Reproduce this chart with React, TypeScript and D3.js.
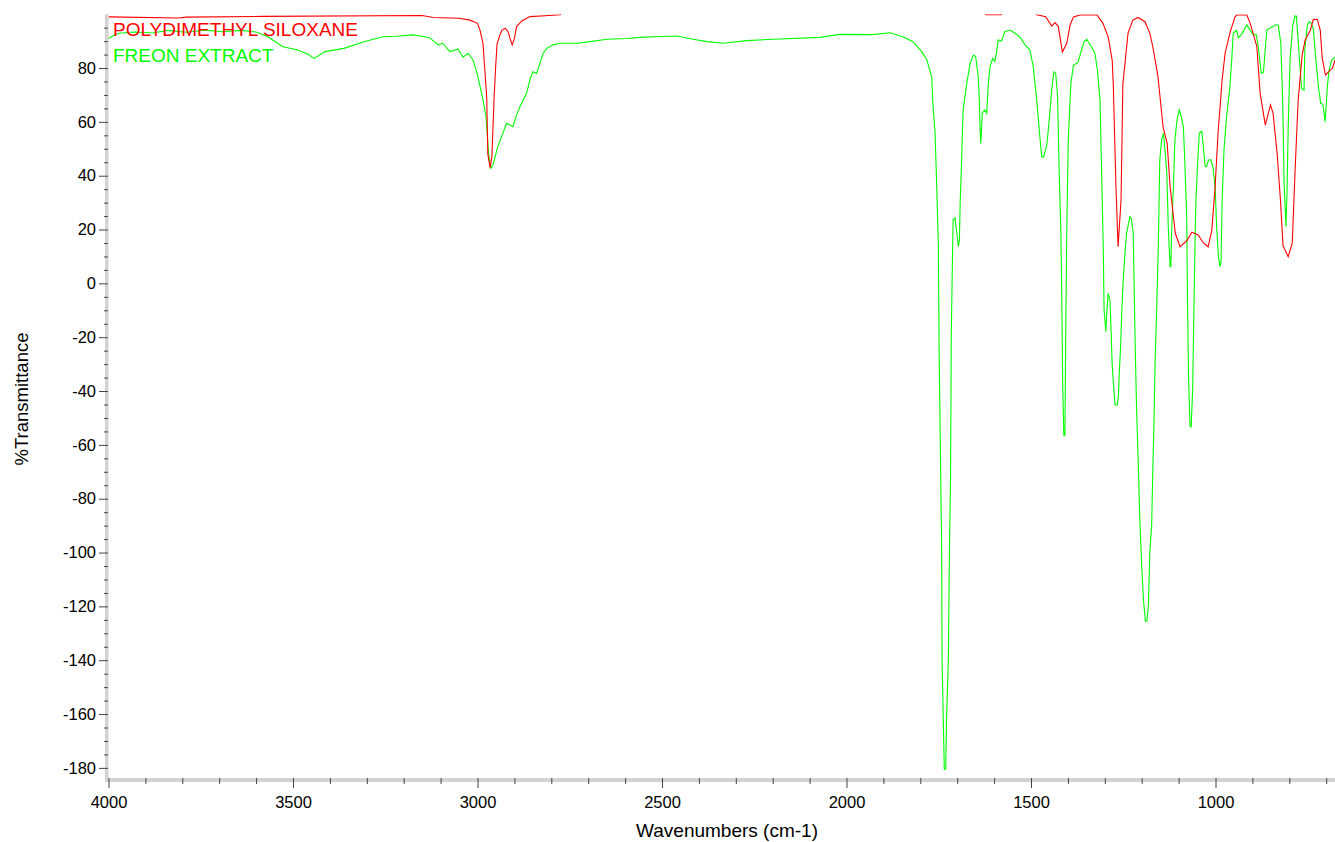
import { useRef, useEffect } from "react";
import * as d3 from "d3";

// [wavenumber (cm-1), %T]
const pdmsSpectrum = [
  [4000, 99.0], [3810, 98.6], [3790, 98.9], [3580, 99.2], [3150, 99.5], [3120, 98.8], [3050, 98.5],
  [3020, 97.8], [3000, 96.6], [2993, 94], [2985, 89], [2980, 79], [2975, 69], [2972, 48], [2966, 43],
  [2961, 47], [2955, 69], [2951, 80], [2947, 89], [2940, 92], [2934, 94], [2925, 94.8], [2917, 93.5],
  [2912, 91], [2906, 88.6], [2900, 91], [2894, 95.4], [2880, 97.5], [2858, 99.1], [2817, 99.4],
  [2776, 99.8], [2770, 101], [1630, 101], [1622, 99.8], [1581, 99.8], [1576, 101], [1490, 101],
  [1484, 99.8], [1460, 99.1], [1444, 95.6], [1435, 96.9], [1426, 95.4], [1415, 86], [1403, 89.2],
  [1394, 96], [1385, 99], [1367, 99.7], [1321, 99.7], [1305, 96.6], [1291, 91.7], [1280, 83],
  [1277, 74], [1270, 37], [1264, 13.6], [1256, 31], [1251, 74], [1237, 93], [1224, 97.8],
  [1210, 98.8], [1191, 97.2], [1178, 92.9], [1170, 88], [1156, 77], [1142, 58], [1131, 52],
  [1123, 36], [1109, 18.6], [1096, 13.6], [1077, 16], [1064, 19], [1047, 18], [1033, 15],
  [1020, 13.6], [1010, 19.8], [1001, 36], [993, 56], [982, 75.6], [974, 85.5], [960, 93.5],
  [947, 99], [942, 99.7], [915, 99.7], [906, 96.6], [898, 92.9], [888, 88], [879, 70.6],
  [865, 58.8], [851, 66.3], [844, 63.2], [833, 48.3], [824, 31], [817, 14], [803, 9.9],
  [792, 14.9], [784, 43], [776, 68], [765, 85], [757, 90.4], [743, 94], [735, 98], [724, 98.1],
  [716, 94], [711, 84], [702, 77.4], [694, 78.6], [683, 80], [672, 84.5]
];

const freonSpectrum = [
  [4000, 91.0], [3985, 92.2], [3972, 92.9], [3930, 93.4], [3880, 93.0], [3840, 94.0], [3790, 93.3],
  [3740, 94.1], [3690, 93.5], [3640, 94.0], [3600, 93.4], [3568, 91.6], [3527, 87.9], [3490, 86.8],
  [3460, 85.2], [3443, 83.6], [3413, 86.1], [3362, 87.3], [3308, 89.8], [3256, 91.6], [3220, 91.8],
  [3175, 92.3], [3142, 91.6], [3129, 91.2], [3107, 88.6], [3094, 89.2], [3075, 86.1], [3053, 87],
  [3039, 84], [3026, 85.5], [3012, 83], [3001, 78], [2993, 73.1], [2985, 68.1], [2977, 61.9],
  [2970, 48.3], [2964, 42.8], [2958, 44], [2945, 50.8], [2931, 55.8], [2921, 59.5], [2904, 58.2],
  [2894, 62.6], [2885, 65.6], [2867, 70.6], [2858, 75.6], [2850, 78.6], [2840, 78], [2822, 85.5],
  [2812, 87.3], [2795, 88.6], [2776, 89.2], [2730, 89.2], [2695, 89.8], [2649, 90.7], [2595, 91],
  [2560, 91.4], [2505, 91.7], [2459, 91.9], [2416, 90.7], [2378, 89.8], [2334, 89.2], [2270, 90.2],
  [2199, 90.7], [2072, 91.4], [2018, 92.5], [1930, 92.4], [1882, 93.1], [1847, 91.6], [1820, 89.8],
  [1796, 86.1], [1782, 83], [1776, 79.9], [1769, 76.8], [1766, 67], [1760, 55.8], [1756, 38.4],
  [1751, 13.6], [1749, -25], [1745, -68], [1742, -100], [1741, -140], [1739, -153], [1735, -180.5],
  [1731, -180.5], [1729, -162], [1724, -140], [1721, -99], [1718, -72], [1716, -19], [1713, 8],
  [1711, 23.6], [1706, 24.3], [1701, 18.6], [1697, 13.6], [1694, 16], [1692, 29.8], [1688, 45.8],
  [1684, 64.4], [1674, 74.3], [1665, 81.8], [1656, 84.8], [1650, 84.3], [1643, 76.8], [1640, 68.1],
  [1638, 57], [1636, 52], [1632, 63.3], [1625, 64.4], [1620, 63.2], [1616, 73.7], [1611, 80.5],
  [1604, 83.6], [1598, 82.5], [1593, 86.1], [1589, 90.4], [1580, 90], [1571, 93.5], [1557, 94.1],
  [1543, 92.9], [1530, 91.5], [1516, 88.6], [1503, 86.7], [1494, 80.5], [1485, 68.8], [1476, 54.5],
  [1471, 47], [1466, 47], [1457, 51.4], [1449, 63.2], [1444, 71.8], [1438, 78.6], [1433, 78],
  [1428, 69.4], [1424, 43.4], [1419, 18.6], [1417, 0.1], [1414, -38.5], [1411, -56.4], [1408, -56.4],
  [1406, -20], [1403, 20], [1399, 53.3], [1392, 74.3], [1385, 81.1], [1373, 82], [1363, 86.7],
  [1356, 89.8], [1349, 90.7], [1336, 87.9], [1327, 85.5], [1320, 79.3], [1313, 68.1], [1308, 37.2],
  [1304, 12.4], [1302, -9.9], [1297, -18], [1295, -11.8], [1291, -3.7], [1286, -6.2], [1283, -17.3],
  [1280, -30.3], [1275, -40.2], [1272, -45.2], [1266, -45.2], [1263, -41.5], [1261, -34], [1257, -22.9],
  [1254, -10.5], [1250, 1.3], [1246, 10], [1241, 18.6], [1232, 24.8], [1228, 24], [1223, 18.6],
  [1218, -20.5], [1214, -46], [1209, -68.5], [1205, -88], [1200, -105], [1195, -118], [1190, -125.5],
  [1186, -125.5], [1182, -120], [1178, -100], [1173, -90], [1170, -70], [1167, -53.8], [1164, -31],
  [1159, -7.4], [1155, 13.6], [1151, 45.8], [1146, 53.3], [1141, 55.8], [1137, 49.6], [1132, 41],
  [1128, 21], [1123, 6.2], [1121, 6.2], [1119, 18.6], [1114, 36], [1110, 53.3], [1104, 61],
  [1098, 64.4], [1093, 62], [1087, 58.2], [1083, 44.6], [1078, 24.8], [1076, -5], [1073, -35],
  [1069, -53], [1066, -53.3], [1062, -40], [1058, -5.4], [1055, 18.6], [1053, 31], [1048, 45.8],
  [1044, 55.8], [1037, 56.4], [1033, 50.8], [1028, 43.4], [1024, 43.4], [1019, 45.8], [1013, 46],
  [1007, 43.4], [1001, 35.9], [997, 21], [992, 9.9], [988, 6.2], [985, 8], [982, 31], [977, 49.6],
  [970, 61.9], [961, 73.1], [956, 83], [952, 92.9], [943, 94], [938, 91.3], [929, 92.5], [915, 96],
  [906, 94], [897, 92.3], [890, 92.5], [884, 87.9], [876, 78], [870, 78.5], [861, 94.1], [838, 96],
  [830, 96], [823, 89.2], [818, 68.1], [814, 37.2], [809, 21], [806, 35], [803, 58.2], [798, 83],
  [791, 95.4], [785, 99.3], [781, 99.3], [776, 90.4], [771, 80.5], [767, 72.5], [760, 71.8],
  [758, 86.7], [751, 96], [746, 97.2], [741, 96.8], [735, 94.8], [728, 83], [721, 73.1], [715, 66.9],
  [709, 66.5], [703, 60.1], [700, 66], [697, 73.1], [692, 79.3], [685, 83], [672, 84.5]
];

const seriesNames = ["POLYDIMETHYL SILOXANE", "FREON EXTRACT"];
const seriesColors = ["#ff0000", "#00ff00"];

const xMajorTicks = [4000, 3500, 3000, 2500, 2000, 1500, 1000];
const xMinorTicks = d3.range(4000, 650, -100).filter(v => v % 500 !== 0);
const yMajorTicks = d3.range(-180, 81, 20);
const yMinorTicks = d3.range(-180, 100, 5).filter(v => v % 20 !== 0);

const FONT = "'Liberation Sans', Arial, sans-serif";

function drawChart(svgRef) {
  const width = 1335,
    height = 842;
  const left = 108.5,
    top = 14.2,
    bottom = 780,
    right = 1335;

  const svg = d3.select(svgRef.current);
  svg.selectAll("*").remove();
  svg.attr("width", width).attr("height", height);

  const x = d3.scaleLinear().domain([4000, 1000]).range([left, 1215.5]);
  const y = d3.scaleLinear().domain([-184.5, 100]).range([bottom, top]);

  svg.append("rect").attr("width", width).attr("height", height).attr("fill", "#fff");

  // grey axis bands
  svg.append("rect")
    .attr("x", left - 3.5).attr("y", top).attr("width", 3.5).attr("height", bottom - top + 2)
    .attr("fill", "#d3d3d3");
  svg.append("rect")
    .attr("x", left - 3.5).attr("y", bottom - 2).attr("width", right - left + 3.5).attr("height", 4)
    .attr("fill", "#d3d3d3");

  const styleAxis = g => {
    g.select(".domain").remove();
    g.selectAll("line").attr("stroke", "#444");
    g.selectAll("text").attr("font-family", FONT).attr("font-size", 16.5).attr("fill", "#000");
  };
  const plain = d => String(d);

  svg.append("g")
    .attr("transform", `translate(${left - 0.5},0)`)
    .call(d3.axisLeft(y).tickValues(yMinorTicks).tickSize(4).tickFormat(() => ""))
    .call(styleAxis);
  svg.append("g")
    .attr("transform", `translate(${left - 0.5},0)`)
    .call(d3.axisLeft(y).tickValues(yMajorTicks).tickSize(9).tickPadding(3).tickFormat(plain))
    .call(styleAxis);

  svg.append("g")
    .attr("transform", `translate(0,${bottom - 2})`)
    .call(d3.axisBottom(x).tickValues(xMinorTicks).tickSize(6).tickFormat(() => ""))
    .call(styleAxis);
  svg.append("g")
    .attr("transform", `translate(0,${bottom - 2})`)
    .call(d3.axisBottom(x).tickValues(xMajorTicks).tickSize(10).tickPadding(8).tickFormat(plain))
    .call(styleAxis);

  svg.append("text")
    .attr("x", 727).attr("y", 837)
    .attr("text-anchor", "middle")
    .attr("font-family", FONT).attr("font-size", 19)
    .text("Wavenumbers (cm-1)");

  svg.append("text")
    .attr("transform", `translate(28,399) rotate(-90)`)
    .attr("text-anchor", "middle")
    .attr("font-family", FONT).attr("font-size", 18.5)
    .text("%Transmittance");

  svg.append("clipPath").attr("id", "plot-clip")
    .append("rect")
    .attr("x", left).attr("y", top).attr("width", right - left).attr("height", bottom - top);

  const line = d3.line()
    .x(d => x(d[0]))
    .y(d => y(d[1]));

  const plot = svg.append("g").attr("clip-path", "url(#plot-clip)");

  plot.append("path")
    .datum(freonSpectrum)
    .attr("fill", "none")
    .attr("stroke", seriesColors[1])
    .attr("stroke-width", 1.1)
    .attr("d", line);

  plot.append("path")
    .datum(pdmsSpectrum)
    .attr("fill", "none")
    .attr("stroke", seriesColors[0])
    .attr("stroke-width", 1.1)
    .attr("d", line);

  svg.selectAll(".legend")
    .data(seriesNames)
    .join("text")
    .attr("class", "legend")
    .attr("x", 113)
    .attr("y", (d, i) => 36 + i * 26)
    .attr("font-family", FONT)
    .attr("font-size", 19)
    .attr("fill", (d, i) => seriesColors[i])
    .text(d => d);
}

export default function App() {
  const svg = useRef(null);
  useEffect(() => {
    drawChart(svg);
  }, [svg]);

  return <svg ref={svg} style={{ position: "absolute", left: 0, top: 0, display: "block" }} />;
}
